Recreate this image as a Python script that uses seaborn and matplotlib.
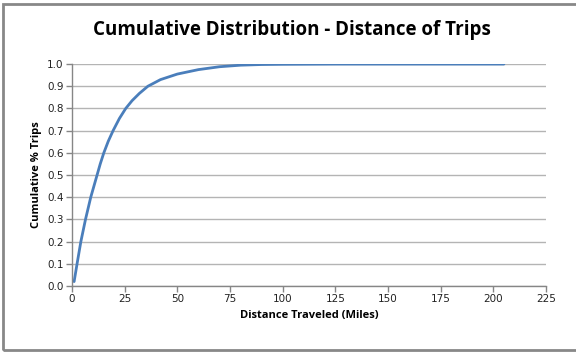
import matplotlib
matplotlib.use("Agg")
import matplotlib.pyplot as plt
import seaborn as sns
import pandas as pd
from matplotlib.patches import Rectangle

distance = [1, 2.4, 4.2, 6.4, 8.9, 11.9, 13.4, 15.1, 17.2, 19.5, 22.5, 25.5, 28.5, 32, 36, 42, 50, 60, 70, 80, 90, 100, 125, 150, 175, 205]
cumulative = [0.02, 0.1, 0.2, 0.3, 0.4, 0.5, 0.55, 0.6, 0.652, 0.7, 0.755, 0.8, 0.835, 0.868, 0.9, 0.93, 0.955, 0.975, 0.988, 0.995, 0.998, 0.999, 1.0, 1.0, 1.0, 1.0]
x_ticks = [0, 25, 50, 75, 100, 125, 150, 175, 200, 225]
y_ticks = [0.0, 0.1, 0.2, 0.3, 0.4, 0.5, 0.6, 0.7, 0.8, 0.9, 1.0]

df = pd.DataFrame({"Distance": distance, "Cumulative": cumulative})

sns.set_style("white")
plt.rcParams['font.family'] = ['DejaVu Sans']

fig = plt.figure(figsize=(5.76, 3.54), dpi=100)
ax = fig.add_axes([0.125, 0.192, 0.823, 0.627])

sns.lineplot(data=df, x="Distance", y="Cumulative", ax=ax, color="#4a7ebb", linewidth=2)

ax.set_xlim(0, 225)
ax.set_ylim(0, 1.0)
ax.set_xticks(x_ticks)
ax.set_yticks(y_ticks)
ax.set_yticklabels([f"{v:.1f}" for v in y_ticks])
ax.grid(axis="y", color="#b4b4b4", linewidth=1)
ax.grid(axis="x", visible=False)
ax.set_axisbelow(True)
for s in ["top", "right"]:
    ax.spines[s].set_visible(False)
for s in ["left", "bottom"]:
    ax.spines[s].set_color("#868686")
    ax.spines[s].set_linewidth(1)
ax.tick_params(axis="both", length=4, color="#868686", labelsize=7.5, labelcolor="#222222", width=1, direction="out", pad=2)
ax.tick_params(axis="both", which="both", bottom=True, left=True)

ax.set_xlabel("Distance Traveled (Miles)", fontsize=8, fontweight="bold", color="black",
              family=["Open Sans", "DejaVu Sans"], labelpad=4)
ax.set_ylabel("Cumulative % Trips", fontsize=8, fontweight="bold", color="black",
              family=["Open Sans", "DejaVu Sans"], labelpad=4)

fig.text(0.506, 0.915, "Cumulative Distribution - Distance of Trips", ha="center", va="center",
         fontsize=13.5, fontweight="bold", color="black", family=["Open Sans", "DejaVu Sans"])

fig.patches.append(Rectangle((0.006, 0.012), 1.1, 0.978, transform=fig.transFigure,
                             fill=False, edgecolor="#888888", linewidth=2))

fig.savefig("out.png", dpi=100)
